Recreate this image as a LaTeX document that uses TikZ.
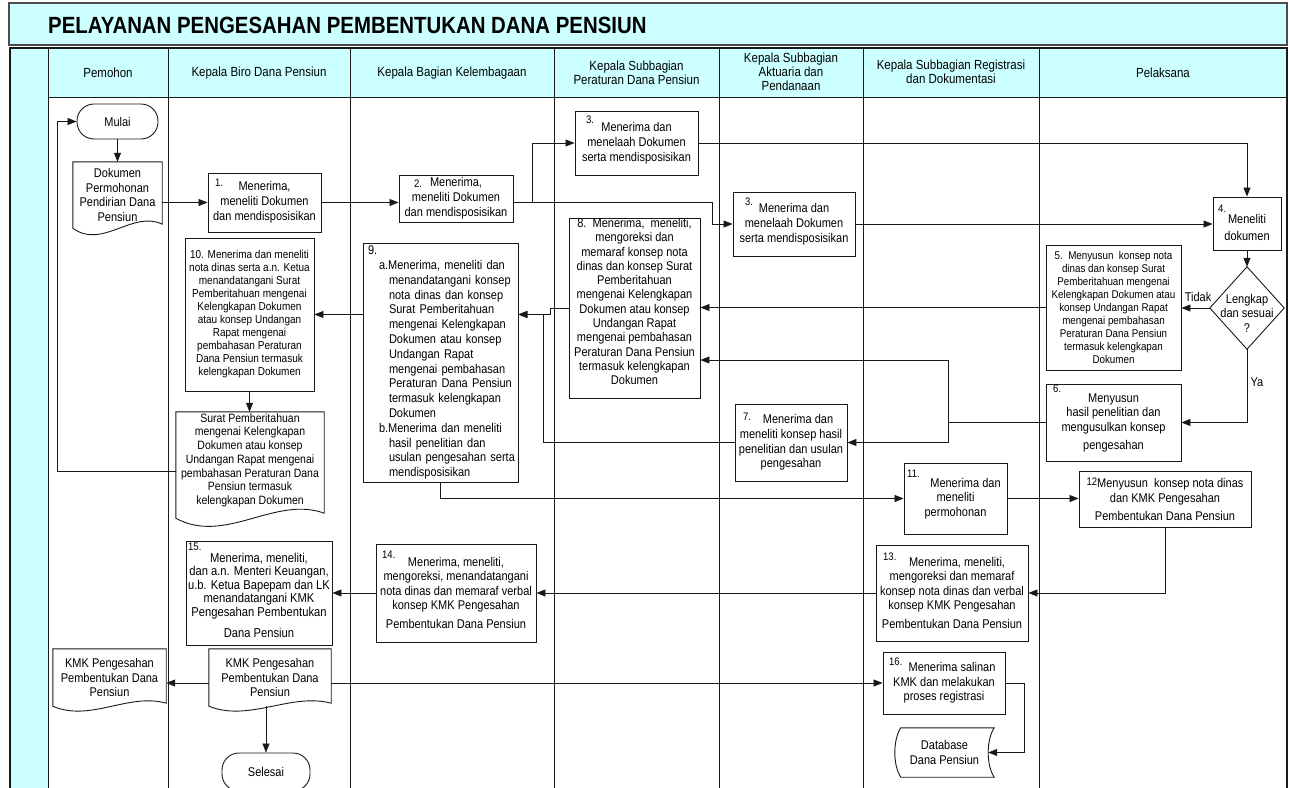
\documentclass[tikz,border=0pt]{standalone}
\usepackage{fontspec}
\setmainfont{Liberation Sans}[FakeStretch=0.87]
\usetikzlibrary{arrows.meta,calc}
\definecolor{cyanbg}{RGB}{204,255,255}
\definecolor{lc}{RGB}{25,25,25}
\newcommand\fs[2]{\fontsize{\fpeval{#1*1.15}}{#2}\selectfont}
\tikzset{
  box/.style={draw=lc, line width=0.9pt, fill=white, inner sep=0pt, align=center, font=\fs{11}{15}},
  txt/.style={inner sep=0pt, align=center, font=\fs{11}{14.5}},
  arr/.style={draw=lc, line width=0.8pt, -{Triangle[length=9pt,width=7pt]}},
  shapeline/.style={draw=lc, line width=0.9pt},
  numlbl/.style={inner sep=0pt, anchor=west, font=\fs{9.5}{11}},
  term/.style={box, rounded corners=17pt},
  laneline/.style={draw=lc, line width=0.8pt},
  hdr/.style={inner sep=0pt, align=center, font=\fs{11.5}{14}},
}
\newcommand\docshape[2]{%
  \draw[shapeline] let \p1=(#1.south west), \p2=(#1.north east) in
    (\x1,\y2) -- (\x2,\y2) -- (\x2,{\y1+0.25*#2}) .. controls ({\x2-0.33*(\x2-\x1)},{\y1+1.15*#2}) and ({\x1+0.33*(\x2-\x1)},{\y1-1.35*#2}) .. (\x1,\y1) -- cycle;}
\begin{document}
\begin{tikzpicture}[x=1pt,y=-1pt]
\useasboundingbox (0,0) rectangle (1289,787);
% ---------- title ----------
\filldraw[fill=cyanbg, draw=gray!60!black, line width=1.5pt] (9,3) rectangle (1287,45);
\node[anchor=west, inner sep=0pt, font=\bfseries\fs{20.4}{24}] (title) at (48,25) {PELAYANAN PENGESAHAN PEMBENTUKAN DANA PENSIUN};
% ---------- lanes ----------
\fill[cyanbg] (10,48) rectangle (1287,97);
\fill[cyanbg] (10,97) rectangle (48,792);
\draw[laneline, line width=1.4pt] (10,792) -- (10,48) -- (1287,48) -- (1287,792);
\draw[laneline] (48,48) -- (48,792);
\draw[laneline] (48,97) -- (1287,97);
\foreach \x in {168,350,554,719,863,1039} \draw[laneline] (\x,48) -- (\x,792);
\node[hdr] (h1) at (108,73) {Pemohon};
\node[hdr] (h2) at (259,73) {Kepala Biro Dana Pensiun};
\node[hdr] (h3) at (452,73) {Kepala Bagian Kelembagaan};
\node[hdr] (h4) at (636.5,73) {Kepala Subbagian\\Peraturan Dana Pensiun};
\node[hdr] (h5) at (791,72) {Kepala Subbagian\\Aktuaria dan\\Pendanaan};
\node[hdr] (h6) at (951,72) {Kepala Subbagian Registrasi\\dan Dokumentasi};
\node[hdr] (h7) at (1163,73) {Pelaksana};
% ---------- nodes ----------
\node[term, minimum width=81, minimum height=35, font=\fs{11}{13}] (mulai) at (117.5,121.5) {Mulai};
\node[txt, minimum width=89, minimum height=66, font=\fs{11}{14.7}] (dok) at (117.5,195) {Dokumen\\Permohonan\\Pendirian Dana\\Pensiun};
\docshape{dok}{16}
\node[box, minimum width=113, minimum height=59] (b1) at (264.5,202.5) {Menerima,\\meneliti Dokumen\\dan mendisposisikan};
\node[box, minimum width=114, minimum height=47] (b2) at (456,198.5) {Menerima,\\meneliti Dokumen\\dan mendisposisikan};
\node[box, minimum width=123, minimum height=64] (b3a) at (636.5,143) {Menerima dan\\menelaah Dokumen\\serta mendisposisikan};
\node[box, minimum width=122, minimum height=64] (b3b) at (794,224) {Menerima dan\\menelaah Dokumen\\serta mendisposisikan};
\node[box, minimum width=68, minimum height=53, font=\fs{11}{17}] (b4) at (1247,223.5) {\rule{0pt}{17pt}Meneliti\\dokumen};
\node[txt, minimum width=74, minimum height=82] (dia) at (1247,308) {\rule{0pt}{19pt}Lengkap\\dan sesuai\\?};
\draw[shapeline] (dia.north) -- (dia.east) -- (dia.south) -- (dia.west) -- cycle;
\node[box, minimum width=135, minimum height=125, font=\fs{9.8}{13}] (b5) at (1113.5,307.5) {5.\ \ Menyusun\ \ konsep nota\\dinas dan konsep Surat\\Pemberitahuan mengenai\\Kelengkapan Dokumen atau\\konsep Undangan Rapat\\mengenai pembahasan\\Peraturan Dana Pensiun\\termasuk kelengkapan\\Dokumen};
\node[box, minimum width=135, minimum height=77, font=\fs{11}{14.5}] (b6) at (1113.5,422.5) {Menyusun\\hasil penelitian dan\\mengusulkan konsep\\[3.5pt]pengesahan};
\node[box, minimum width=112, minimum height=77, font=\fs{11}{14.7}] (b7) at (791,442.5) {\hspace*{14pt}Menerima dan\\meneliti konsep hasil\\penelitian dan usulan\\pengesahan};
\node[box, minimum width=131, minimum height=180, font=\fs{11}{14.3}] (b8) at (634.5,308) {8.\ \ Menerima,\ \ meneliti,\\mengoreksi dan\\memaraf konsep nota\\dinas dan konsep Surat\\Pemberitahuan\\mengenai Kelengkapan\\Dokumen atau konsep\\Undangan Rapat\\mengenai pembahasan\\Peraturan Dana Pensiun\\termasuk kelengkapan\\Dokumen\rule[-13pt]{0pt}{0pt}};
\node[box, minimum width=155, minimum height=239, text width=152, inner xsep=1.5pt, align=left, font=\fs{11}{14.8}] (b9) at (440.5,362.5) {\hspace*{3.5pt}9.\\
\hspace*{14.5pt}a.Menerima, meneliti dan\\
\hspace*{24.5pt}menandatangani konsep\\
\hspace*{24.5pt}nota dinas dan konsep\\
\hspace*{24.5pt}Surat Pemberitahuan\\
\hspace*{24.5pt}mengenai Kelengkapan\\
\hspace*{24.5pt}Dokumen atau konsep\\
\hspace*{24.5pt}Undangan Rapat\\
\hspace*{24.5pt}mengenai pembahasan\\
\hspace*{24.5pt}Peraturan Dana Pensiun\\
\hspace*{24.5pt}termasuk kelengkapan\\
\hspace*{24.5pt}Dokumen\\
\hspace*{14.5pt}b.Menerima dan meneliti\\
\hspace*{24.5pt}hasil penelitian dan\\
\hspace*{24.5pt}usulan pengesahan serta\\
\hspace*{24.5pt}mendisposisikan};
\node[box, minimum width=129, minimum height=153, font=\fs{10}{13}] (b10) at (249.5,314.5) {10. Menerima dan meneliti\\nota dinas serta a.n. Ketua\\menandatangani Surat\\Pemberitahuan mengenai\\Kelengkapan Dokumen\\atau konsep Undangan\\Rapat mengenai\\pembahasan Peraturan\\Dana Pensiun termasuk\\kelengkapan Dokumen};
\node[txt, minimum width=148, minimum height=106, font=\fs{10.5}{13.7}] (surat) at (250,465) {Surat Pemberitahuan\\mengenai Kelengkapan\\Dokumen atau konsep\\Undangan Rapat mengenai\\pembahasan Peraturan Dana\\Pensiun termasuk\\kelengkapan Dokumen\rule[-12pt]{0pt}{0pt}};
\docshape{surat}{20}
\node[box, minimum width=103, minimum height=71, font=\fs{11}{14.5}] (b11) at (955.5,498.5) {\hspace*{20pt}Menerima dan\\meneliti\\permohonan};
\node[box, minimum width=172, minimum height=56, font=\fs{11}{15}] (b12) at (1165,499) {\raisebox{2pt}{\fs{9.5}{10}12}Menyusun\ \ konsep nota dinas\\dan KMK Pengesahan\\[3pt]Pembentukan Dana Pensiun};
\node[box, minimum width=152, minimum height=96, font=\fs{11}{14.5}] (b13) at (952,593) {\hspace*{10pt}Menerima, meneliti,\\mengoreksi dan memaraf\\konsep nota dinas dan verbal\\konsep KMK Pengesahan\\[4.5pt]Pembentukan Dana Pensiun};
\node[box, minimum width=160, minimum height=98, font=\fs{11}{14.5}] (b14) at (456,593) {Menerima, meneliti,\\mengoreksi, menandatangani\\nota dinas dan memaraf verbal\\konsep KMK Pengesahan\\[4.5pt]Pembentukan Dana Pensiun};
\node[box, minimum width=146, minimum height=104, font=\fs{11.2}{13.5}] (b15) at (259,593) {\rule{0pt}{14pt}Menerima, meneliti,\\dan a.n. Menteri Keuangan,\\u.b. Ketua Bapepam dan LK\\menandatangani KMK\\Pengesahan Pembentukan\\[7.5pt]Dana Pensiun};
\node[txt, minimum width=113, minimum height=57] (kmkp) at (109.5,677.5) {KMK Pengesahan\\Pembentukan Dana\\Pensiun};
\docshape{kmkp}{12}
\node[txt, minimum width=122, minimum height=57] (kmkb) at (270,677.5) {KMK Pengesahan\\Pembentukan Dana\\Pensiun};
\docshape{kmkb}{12}
\node[box, minimum width=122, minimum height=62, font=\fs{11}{14.5}] (b16) at (944,683) {\hspace*{16pt}Menerima salinan\\KMK dan melakukan\\proses registrasi};
\node[txt, minimum width=99, minimum height=49] (db) at (944.5,752.5) {Database\\Dana Pensiun};
\draw[shapeline] let \p1=(db.south west), \p2=(db.north east) in
  (\x1+6pt,\y2) -- (\x2,\y2) .. controls (\x2-8pt,\y2-12pt) and (\x2-8pt,\y1+12pt) .. (\x2,\y1)
  -- (\x1+6pt,\y1) .. controls (\x1-2pt,\y1+12pt) and (\x1-2pt,\y2-12pt) .. (\x1+6pt,\y2) -- cycle;
\node[term, minimum width=88, minimum height=38, font=\fs{11}{13}] (selesai) at (266,772) {Selesai};
% ---------- numbers ----------
\node[numlbl] (n1) at (215,183) {1.};
\node[numlbl] (n2) at (414,184) {2.};
\node[numlbl] (n3a) at (586,120) {3.};
\node[numlbl] (n3b) at (745,202) {3.};
\node[numlbl] (n4) at (1218,209) {4.};
\node[numlbl] (n6) at (1053,389) {6.};
\node[numlbl] (n7) at (743,417) {7.};
\node[numlbl] (n11) at (907,474) {11.};
\node[numlbl] (n13) at (883,557) {13.};
\node[numlbl] (n14) at (382,555) {14.};
\node[numlbl] (n15) at (188,547) {15.};
\node[numlbl] (n16) at (889,662) {16.};
\node[txt] (tidak) at (1198,297) {Tidak};
\node[txt] (ya) at (1257,382) {Ya};
% ---------- connectors ----------
\draw[arr] (mulai.south) -- (mulai.south |- dok.north);
\draw[arr] (dok.east |- b1.west) -- (b1.west);
\draw[arr] (b1.east) -- (b1.east -| b2.west);
\draw[arr] (b2.east |- b1.east) -- ++(19,0) |- (b3a.west);
\draw[arr] (b2.east |- b1.east) -| ([xshift=-20pt]b3b.west) -- (b3b.west);
\draw[arr] (b3a.east) -| (b4.north);
\draw[arr] (b3b.east) -- (b3b.east -| b4.west);
\draw[arr] (b4.south) -- (dia.north);
\draw[arr] (dia.west) -- (dia.west -| b5.east);
\draw[arr] (dia.south) |- (b6.east);
\draw[arr] (b5.west) -- (b5.west -| b8.east);
\coordinate (j6) at ([xshift=-97pt]b6.west);
\draw[arr] (b6.west) -- (j6) |- ([yshift=-52pt]b8.east);
\draw[arr] (j6) |- (b7.east);
\coordinate (b9r) at (b9.east |- b10.east);
\draw[arr] (b8.west) -| ([xshift=32pt]b9r) -- (b9r);
\draw[arr] (b7.west) -| ([xshift=25pt]b9r) -- (b9r);
\draw[arr] (b9.west |- b10.east) -- (b10.east);
\draw[arr] (b10.south) -- (b10.south |- surat.north);
\draw[arr] ([yshift=-6pt]surat.west) -| ([xshift=-19pt]mulai.west) -- (mulai.west);
\draw[arr] (b9.south) |- (b11.west);
\draw[arr] (b11.east) -- (b11.east -| b12.west);
\draw[arr] (b12.south) |- (b13.east);
\draw[arr] (b13.west) -- (b14.east);
\draw[arr] (b14.west) -- (b15.east);
\draw[arr] ([yshift=-5.5pt]kmkb.west) -- ([yshift=-5.5pt]kmkp.east);
\draw[arr] ([yshift=-5.5pt]kmkb.east) -- (b16.west);
\draw[arr] (b16.east) -- ++(19,0) |- ([xshift=-6pt]db.east);
\draw[arr] (selesai.north |- kmkb.south) -- (selesai.north);
\end{tikzpicture}
\end{document}
